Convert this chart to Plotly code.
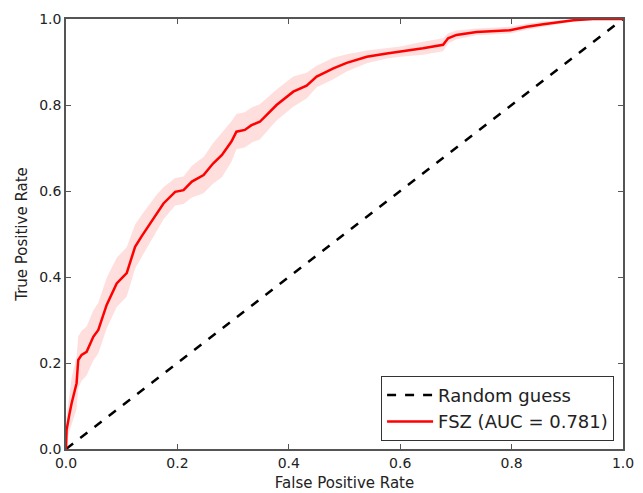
import plotly.graph_objects as go

fpr = [0.000, 0.001, 0.006, 0.010, 0.019, 0.022, 0.028, 0.037, 0.049, 0.058,
       0.073, 0.091, 0.109, 0.124, 0.136, 0.151, 0.163, 0.175, 0.196, 0.211,
       0.226, 0.247, 0.264, 0.280, 0.297, 0.306, 0.321, 0.333, 0.348, 0.378,
       0.408, 0.432, 0.450, 0.480, 0.504, 0.540, 0.576, 0.600, 0.641, 0.677,
       0.686, 0.701, 0.737, 0.797, 0.827, 0.857, 0.893, 0.911, 0.946, 1.000]
tpr = [0.000, 0.044, 0.080, 0.106, 0.153, 0.207, 0.219, 0.226, 0.261, 0.277,
       0.335, 0.385, 0.409, 0.470, 0.495, 0.525, 0.548, 0.571, 0.598, 0.602,
       0.622, 0.637, 0.664, 0.684, 0.715, 0.738, 0.742, 0.753, 0.761, 0.800,
       0.831, 0.845, 0.866, 0.885, 0.898, 0.912, 0.920, 0.924, 0.932, 0.940,
       0.955, 0.963, 0.970, 0.974, 0.982, 0.988, 0.993, 0.997, 1.000, 1.000]
tpr_upper = [0.000, 0.074, 0.125, 0.165, 0.215, 0.262, 0.275, 0.285, 0.322, 0.340,
             0.398, 0.445, 0.469, 0.522, 0.545, 0.570, 0.592, 0.609, 0.630, 0.634,
             0.659, 0.679, 0.711, 0.736, 0.762, 0.779, 0.783, 0.794, 0.802, 0.836,
             0.866, 0.875, 0.891, 0.910, 0.918, 0.927, 0.932, 0.936, 0.947, 0.955,
             0.967, 0.973, 0.978, 0.982, 0.989, 0.994, 0.997, 1.000, 1.000, 1.000]
tpr_lower = [0.000, 0.014, 0.040, 0.056, 0.093, 0.142, 0.159, 0.171, 0.206, 0.222,
             0.280, 0.330, 0.354, 0.420, 0.447, 0.482, 0.506, 0.534, 0.566, 0.570,
             0.585, 0.595, 0.617, 0.632, 0.668, 0.697, 0.701, 0.712, 0.720, 0.764,
             0.796, 0.815, 0.841, 0.860, 0.878, 0.897, 0.908, 0.912, 0.917, 0.925,
             0.943, 0.953, 0.962, 0.966, 0.975, 0.982, 0.989, 0.994, 1.000, 1.000]
diag = [0.0, 1.0]
tick_vals = [0.0, 0.2, 0.4, 0.6, 0.8, 1.0]
tick_text = ["0.0", "0.2", "0.4", "0.6", "0.8", "1.0"]

fig = go.Figure()
fig.add_trace(go.Scatter(x=diag, y=diag, mode="lines", name="Random guess",
                         line=dict(color="black", width=2.5, dash="dash")))
fig.add_trace(go.Scatter(x=fpr, y=tpr_lower, mode="lines", line=dict(width=0),
                         showlegend=False, hoverinfo="skip"))
fig.add_trace(go.Scatter(x=fpr, y=tpr_upper, mode="lines", line=dict(width=0),
                         fill="tonexty", fillcolor="rgba(255,0,0,0.13)",
                         showlegend=False, hoverinfo="skip"))
fig.add_trace(go.Scatter(x=fpr, y=tpr, mode="lines", name="FSZ (AUC = 0.781)",
                         line=dict(color="red", width=2.5)))

axis_common = dict(range=[0, 1], tickvals=tick_vals, ticktext=tick_text,
                   ticks="inside", ticklen=5, tickcolor="#555", tickwidth=1,
                   showline=True, linecolor="#555", linewidth=1.5, mirror="ticks",
                   showgrid=False, zeroline=False, automargin=False,
                   tickfont=dict(family="DejaVu Sans", size=14, color="#222"))
fig.update_xaxes(title=dict(text="False Positive Rate", standoff=8,
                            font=dict(family="DejaVu Sans", size=15, color="#222")),
                 **axis_common)
fig.update_yaxes(title=dict(text="True Positive Rate", standoff=8,
                            font=dict(family="DejaVu Sans", size=15, color="#222")),
                 **axis_common)
fig.update_layout(
    width=627, height=485,
    margin=dict(l=58, r=12, t=11, b=44),
    plot_bgcolor="white", paper_bgcolor="white",
    legend=dict(x=0.984, y=0.019, xanchor="right", yanchor="bottom",
                bgcolor="white", bordercolor="#333", borderwidth=1,
                traceorder="normal", itemwidth=46,
                font=dict(family="DejaVu Sans", size=18, color="#222"),
                tracegroupgap=0),
    showlegend=True,
)
fig.write_html("out.html")
